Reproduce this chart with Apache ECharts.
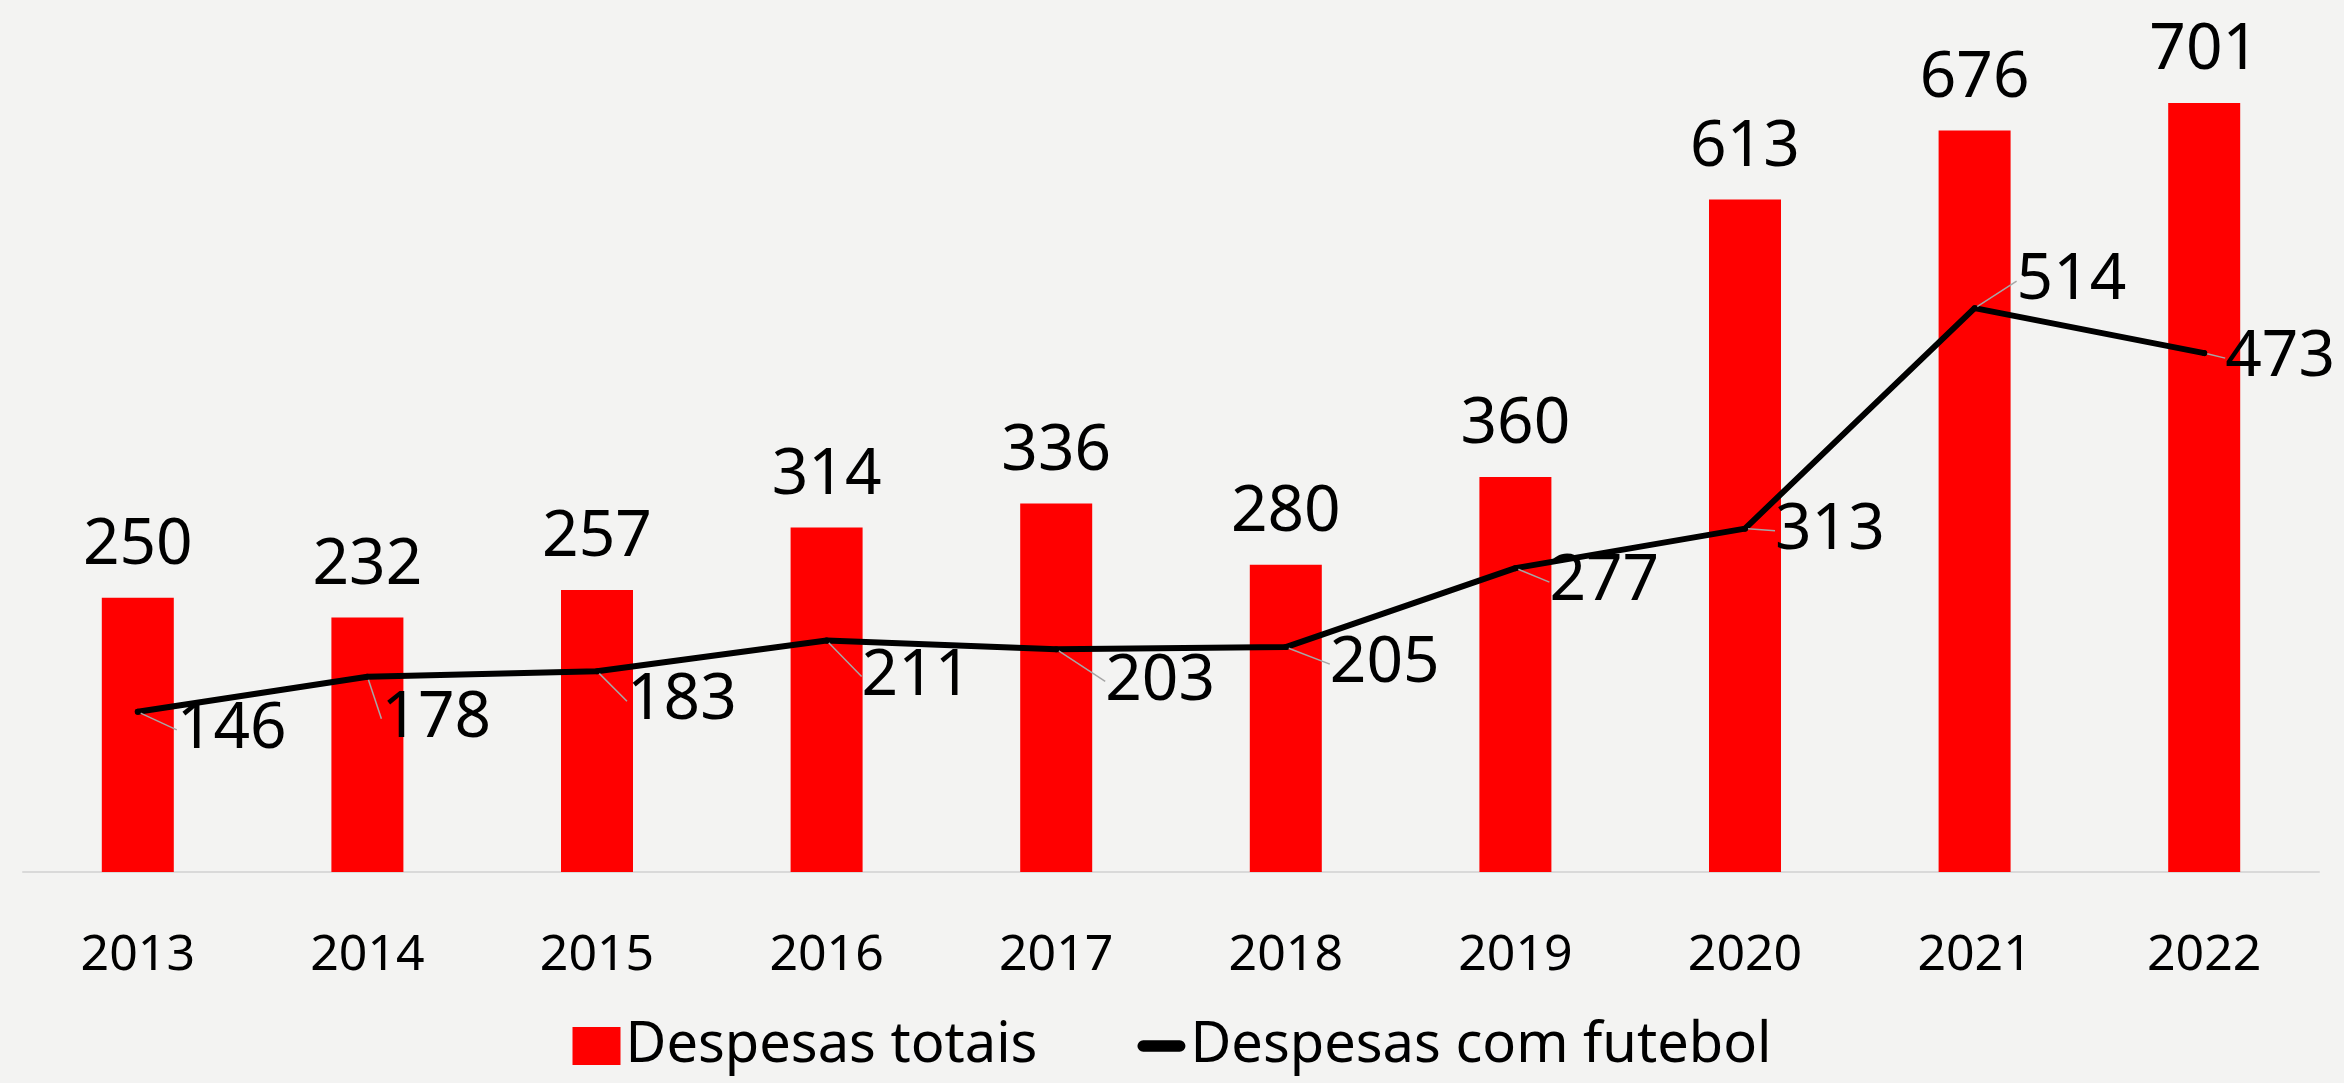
<!DOCTYPE html>
<html><head><meta charset="utf-8">
<script src="https://cdn.jsdelivr.net/npm/echarts@6/dist/echarts.min.js"></script>
<style>html,body{margin:0;padding:0;background:#f3f3f2;}#c{width:2344px;height:1083px;}</style>
</head><body><div id="c"></div>
<script>
const years = ['2013','2014','2015','2016','2017','2018','2019','2020','2021','2022'];
const despesasTotais = [250,232,257,314,336,280,360,613,676,701];
const despesasFutebol = [146,178,183,211,203,205,277,313,514,473];
// label displacement (layout only) for the line labels
const lineLabelShift = [[31,18],[6,42],[22,30],[27,36],[41,32],[36,17],[26,14],[22,2],[34,-27],[13,5]];

const chart = echarts.init(document.getElementById('c'));
const FONT = 'Noto Sans';
chart.setOption({
  backgroundColor: '#f3f3f2',
  animation: false,
  grid: {left: 23, right: 25, top: 49.25, bottom: 211, containLabel: false},
  legend: {
    bottom: 4, left: 'center', itemGap: 100, itemWidth: 48, itemHeight: 38,
    textStyle: {fontFamily: FONT, fontSize: 56, color: '#000'},
    data: [
      {name: 'Despesas totais', icon: 'rect'},
      {name: 'Despesas com futebol', icon: 'path://M4,0 L29,0 A4,4 0 0 1 29,8 L4,8 A4,4 0 0 1 4,0 Z'}
    ]
  },
  xAxis: {
    type: 'category', data: years,
    axisLine: {lineStyle: {color: '#d9d9d9', width: 2}},
    axisTick: {show: false},
    axisLabel: {fontFamily: FONT, fontSize: 50, color: '#000', margin: 59}
  },
  yAxis: {type: 'value', min: 0, max: 750, show: false, splitLine: {show: false}},
  series: [
    {
      name: 'Despesas totais', type: 'bar', data: despesasTotais, barWidth: 72,
      itemStyle: {color: '#ff0000'},
      label: {show: true, position: 'top', distance: 20, fontFamily: FONT, fontSize: 64, color: '#000'}
    },
    {
      name: 'Despesas com futebol', type: 'line', data: despesasFutebol,
      showSymbol: true, symbol: 'circle', symbolSize: 6,
      lineStyle: {color: '#000', width: 6, cap: 'round', join: 'round'},
      itemStyle: {color: '#000'},
      label: {show: true, position: 'right', distance: 5, fontFamily: FONT, fontSize: 64, color: '#000'},
      labelLine: {show: true, lineStyle: {color: '#a6a6a6', width: 1.5}},
      labelLayout: function (p) {
        const s = lineLabelShift[p.dataIndex];
        return {dx: s[0], dy: s[1]};
      }
    }
  ]
});
</script></body></html>
